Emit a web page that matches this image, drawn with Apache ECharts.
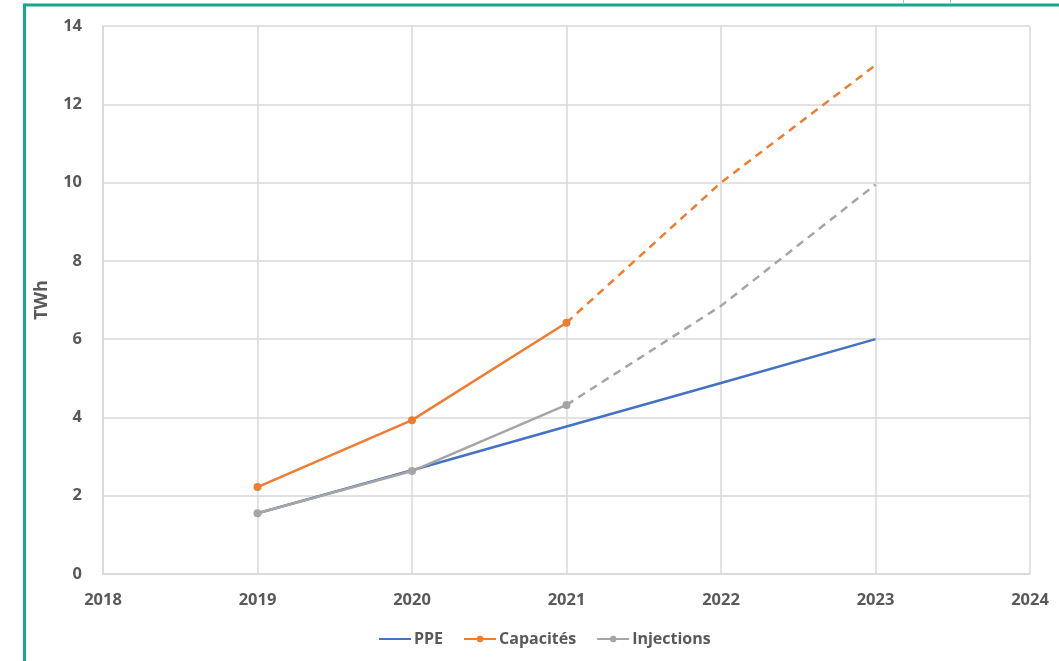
<!DOCTYPE html>
<html>
<head>
<meta charset="utf-8">
<script src="https://cdn.jsdelivr.net/npm/echarts@6/dist/echarts.min.js"></script>
<style>
  html, body { margin: 0; padding: 0; background: #ffffff; }
  #chart { width: 1059px; height: 661px; }
</style>
</head>
<body>
<div id="chart"></div>
<script>
// Years on the horizontal axis
const years = [2019, 2020, 2021, 2022, 2023];
// PPE trajectory (TWh)
const ppe = [1.55, 2.65, 3.77, 4.88, 6.0];
// Capacités: observed years, then projected years
const capaYears = [2019, 2020, 2021];
const capacites = [2.22, 3.93, 6.42];
const capaProjYears = [2021, 2022, 2023];
const capacitesProj = [6.42, 10.0, 13.0];
// Injections: observed years, then projected years
const injYears = [2019, 2020, 2021];
const injections = [1.55, 2.63, 4.32];
const injProjYears = [2021, 2022, 2023];
const injectionsProj = [4.32, 6.85, 9.95];

const pair = (xs, ys) => xs.map((x, i) => [x, ys[i]]);

const textColor = '#595959';
const gridColor = '#d9d9d9';
const font = 'Open Sans';
// square-bounded marker whose only visible part is a hairline across the middle,
// so the PPE legend entry reads as a plain line
const flatMarker = 'path://M0,0H0.01V0.01H0Z M0,19.8H40V20.2H0Z M39.99,39.99H40V40H39.99Z';

const chart = echarts.init(document.getElementById('chart'), null, { renderer: 'canvas' });
chart.setOption({
  backgroundColor: '#ffffff',
  animation: false,
  grid: { left: 103, right: 29, top: 26, bottom: 87 },
  xAxis: {
    type: 'value', min: 2018, max: 2024, interval: 1,
    axisLine: { show: true, lineStyle: { color: gridColor, width: 1.5 } },
    axisTick: { show: false },
    splitLine: { show: true, lineStyle: { color: gridColor, width: 1.5 } },
    axisLabel: { color: textColor, fontFamily: font, fontWeight: 'bold', fontSize: 16.5, margin: 18,
      formatter: v => String(v) }
  },
  yAxis: {
    type: 'value', min: 0, max: 14, interval: 2,
    name: 'TWh', nameLocation: 'middle', nameGap: 52, nameRotate: 90,
    nameTextStyle: { color: textColor, fontFamily: font, fontWeight: 'bold', fontSize: 18 },
    axisLine: { show: true, lineStyle: { color: gridColor, width: 1.5 } },
    axisTick: { show: false },
    splitLine: { show: true, lineStyle: { color: gridColor, width: 1.5 } },
    axisLabel: { color: textColor, fontFamily: font, fontWeight: 'bold', fontSize: 16.5, margin: 21 }
  },
  legend: {
    left: 373, top: 626,
    itemWidth: 32, itemHeight: 8, itemGap: 20,
    textStyle: { color: textColor, fontFamily: font, fontWeight: 'bold', fontSize: 16, padding: [0, 0, 0, -2] },
    data: ['PPE', 'Capacités', 'Injections']
  },
  series: [
    {
      name: 'PPE', type: 'line', data: pair(years, ppe),
      showSymbol: false, symbol: flatMarker,
      lineStyle: { color: '#4472c4', width: 2.5 }, itemStyle: { color: '#4472c4', borderWidth: 0 }
    },
    {
      name: 'Capacités', type: 'line', data: pair(capaYears, capacites),
      symbol: 'circle', symbolSize: 8,
      lineStyle: { color: '#ed7d31', width: 2.5 }, itemStyle: { color: '#ed7d31' }
    },
    {
      name: 'Capacités projection', type: 'line', data: pair(capaProjYears, capacitesProj),
      showSymbol: false, symbol: 'none',
      lineStyle: { color: '#ed7d31', width: 2.5, type: [8, 6] }, itemStyle: { color: '#ed7d31' }
    },
    {
      name: 'Injections', type: 'line', data: pair(injYears, injections),
      symbol: 'circle', symbolSize: 8,
      lineStyle: { color: '#a5a5a5', width: 2.5 }, itemStyle: { color: '#a5a5a5' }
    },
    {
      name: 'Injections projection', type: 'line', data: pair(injProjYears, injectionsProj),
      showSymbol: false, symbol: 'none',
      lineStyle: { color: '#a5a5a5', width: 2.5, type: [8, 6] }, itemStyle: { color: '#a5a5a5' }
    }
  ],
  graphic: [
    // frame around the chart
    { type: 'line', shape: { x1: 24.5, y1: 5, x2: 1059, y2: 5 }, style: { stroke: '#14a886', lineWidth: 3 }, silent: true },
    { type: 'line', shape: { x1: 24.5, y1: 3.5, x2: 24.5, y2: 661 }, style: { stroke: '#14a886', lineWidth: 3 }, silent: true },
    { type: 'line', shape: { x1: 903.5, y1: 0, x2: 903.5, y2: 4 }, style: { stroke: '#8fd3c3', lineWidth: 1 }, silent: true },
    { type: 'line', shape: { x1: 950.5, y1: 0, x2: 950.5, y2: 4 }, style: { stroke: '#8fd3c3', lineWidth: 1 }, silent: true }
  ]
});
</script>
</body>
</html>
